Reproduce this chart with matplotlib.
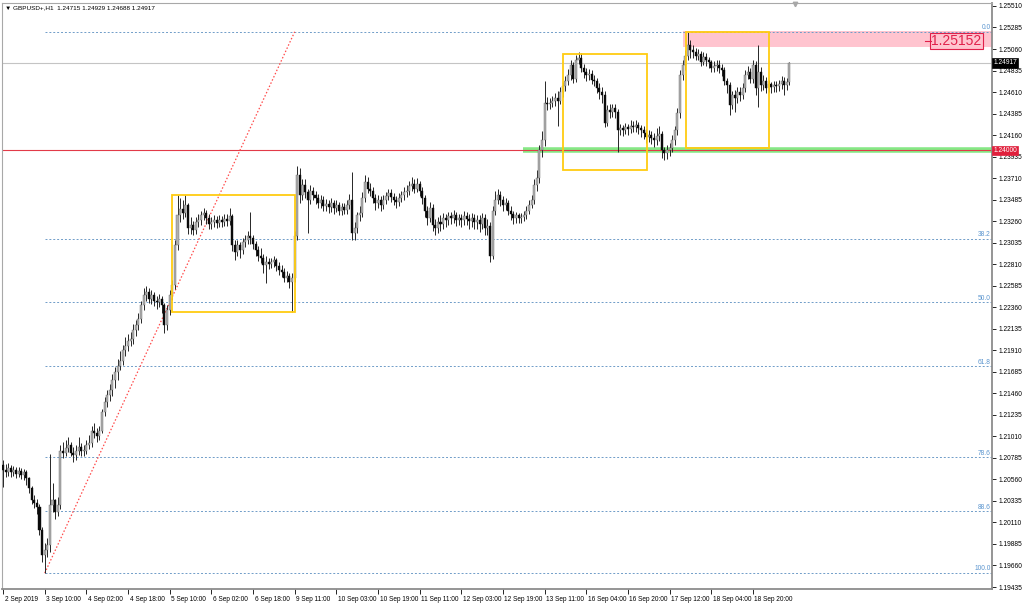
import matplotlib
matplotlib.use("Agg")
import matplotlib.pyplot as plt
import matplotlib.transforms as mtrans
from matplotlib.patches import Rectangle
import numpy as np

# ---------------- data (prices in pips, 1 pip = 0.0001) ----------------
title_symbol = "GBPUSD+,H1"
title_ohlc = ["1.24715", "1.24929", "1.24688", "1.24917"]

first_open = 12071
close_pips = [
    12066, 12064, 12068, 12064, 12066, 12062, 12065, 12061, 12064, 12057,
    12047, 12034, 12031, 12027, 12003, 11977, 11982, 11987, 12029, 12034,
    12022, 12029, 12086, 12084, 12089, 12092, 12084, 12081, 12086, 12090,
    12086, 12086, 12092, 12094, 12107, 12105, 12101, 12107, 12126, 12137,
    12144, 12149, 12160, 12168, 12175, 12180, 12191, 12196, 12201, 12203,
    12212, 12217, 12224, 12238, 12249, 12252, 12245, 12249, 12243, 12241,
    12245, 12238, 12217, 12233, 12249, 12259, 12301, 12332, 12339, 12335,
    12343, 12319, 12322, 12317, 12325, 12327, 12332, 12335, 12329, 12323,
    12325, 12327, 12324, 12327, 12325, 12328, 12326, 12331, 12301, 12294,
    12301, 12296, 12304, 12306, 12310, 12308, 12302, 12296, 12290, 12288,
    12280, 12283, 12281, 12283, 12285, 12279, 12275, 12273, 12267, 12269,
    12262, 12267, 12311, 12374, 12353, 12364, 12356, 12348, 12358, 12353,
    12350, 12345, 12348, 12342, 12344, 12341, 12345, 12340, 12343, 12337,
    12341, 12338, 12343, 12348, 12314, 12319, 12332, 12335, 12350, 12367,
    12360, 12358, 12350, 12345, 12348, 12343, 12348, 12352, 12355, 12351,
    12348, 12346, 12350, 12353, 12356, 12358, 12363, 12365, 12360, 12365,
    12358, 12350, 12337, 12329, 12340, 12322, 12319, 12325, 12323, 12329,
    12327, 12331, 12329, 12332, 12327, 12329, 12327, 12331, 12328, 12326,
    12329, 12325, 12327, 12323, 12329, 12319, 12321, 12290, 12337, 12348,
    12353, 12348, 12343, 12345, 12337, 12333, 12329, 12332, 12329, 12330,
    12332, 12337, 12343, 12348, 12364, 12371, 12400, 12411, 12450, 12448,
    12450, 12452, 12455, 12452, 12461, 12467, 12473, 12479, 12489, 12475,
    12494, 12497, 12486, 12482, 12479, 12480, 12474, 12473, 12465, 12461,
    12458, 12429, 12442, 12440, 12444, 12440, 12421, 12423, 12421, 12424,
    12422, 12426, 12424, 12427, 12423, 12421, 12418, 12414, 12416, 12413,
    12411, 12415, 12417, 12400, 12397, 12400, 12402, 12411, 12421, 12439,
    12479, 12489, 12499, 12510, 12505, 12503, 12499, 12501, 12492, 12498,
    12494, 12492, 12486, 12488, 12489, 12486, 12484, 12473, 12468, 12447,
    12458, 12455, 12461, 12458, 12465, 12479, 12482, 12475, 12489, 12465,
    12482, 12468, 12473, 12465, 12469, 12466, 12468, 12467, 12469, 12473,
    12468, 12471.5, 12491.7,
]
high_pips = [
    12076, 12072, 12073, 12071, 12070, 12069, 12069, 12068, 12067, 12066,
    12059, 12049, 12040, 12035, 12030, 12006, 11990, 11995, 12083, 12052,
    12036, 12038, 12092, 12095, 12097, 12100, 12095, 12090, 12092, 12100,
    12094, 12092, 12097, 12102, 12112, 12115, 12110, 12112, 12130, 12142,
    12150, 12156, 12166, 12174, 12182, 12190, 12197, 12205, 12208, 12210,
    12218, 12223, 12230, 12243, 12256, 12258, 12256, 12254, 12252, 12248,
    12250, 12248, 12240, 12238, 12254, 12265, 12306, 12353, 12350, 12348,
    12353, 12345, 12330, 12326, 12330, 12333, 12337, 12340, 12338, 12333,
    12330, 12332, 12331, 12332, 12331, 12333, 12334, 12340, 12334, 12306,
    12306, 12304, 12308, 12312, 12316, 12336, 12312, 12305, 12300, 12298,
    12292, 12290, 12288, 12287, 12290, 12288, 12283, 12280, 12277, 12274,
    12272, 12272, 12316, 12384, 12382, 12370, 12370, 12360, 12364, 12362,
    12358, 12354, 12353, 12352, 12349, 12348, 12350, 12348, 12348, 12346,
    12345, 12345, 12348, 12354, 12377, 12325, 12336, 12342, 12356, 12374,
    12372, 12366, 12362, 12354, 12353, 12352, 12353, 12357, 12360, 12360,
    12355, 12352, 12355, 12358, 12362, 12364, 12368, 12372, 12370, 12371,
    12368, 12362, 12353, 12342, 12346, 12344, 12328, 12330, 12332, 12335,
    12334, 12336, 12336, 12338, 12336, 12334, 12333, 12337, 12336, 12333,
    12335, 12334, 12332, 12332, 12335, 12333, 12328, 12325, 12342, 12358,
    12360, 12358, 12352, 12350, 12348, 12342, 12337, 12336, 12335, 12335,
    12337, 12342, 12348, 12353, 12370, 12380, 12406, 12420, 12473, 12456,
    12455, 12457, 12460, 12462, 12466, 12472, 12478, 12485, 12495, 12492,
    12500, 12503, 12502, 12490, 12486, 12485, 12484, 12479, 12476, 12470,
    12466, 12462, 12447, 12448, 12449, 12448, 12443, 12428, 12427, 12429,
    12428, 12432, 12431, 12432, 12430, 12427, 12425, 12422, 12421, 12420,
    12418, 12423, 12425, 12420, 12404, 12406, 12408, 12416, 12426, 12444,
    12484, 12495, 12505, 12524, 12515, 12510, 12507, 12506, 12504, 12503,
    12502, 12498, 12495, 12493, 12494, 12495, 12490, 12487, 12476, 12471,
    12462, 12463, 12466, 12466, 12470, 12484, 12488, 12486, 12494, 12493,
    12510, 12487, 12479, 12477, 12474, 12472, 12473, 12473, 12474, 12478,
    12477, 12476, 12492.9,
]
low_pips = [
    12048, 12058, 12060, 12059, 12060, 12057, 12058, 12056, 12055, 12050,
    12042, 12030, 12026, 12020, 11998, 11970, 11958, 11975, 11980, 12022,
    12015, 12018, 12025, 12078, 12080, 12085, 12080, 12074, 12076, 12082,
    12080, 12080, 12083, 12088, 12090, 12099, 12095, 12097, 12104, 12122,
    12132, 12138, 12143, 12152, 12160, 12170, 12176, 12185, 12190, 12195,
    12198, 12206, 12212, 12220, 12233, 12243, 12240, 12239, 12237, 12234,
    12236, 12230, 12209, 12212, 12228, 12244, 12255, 12296, 12325, 12328,
    12330, 12313, 12313, 12312, 12313, 12320, 12322, 12327, 12323, 12318,
    12318, 12320, 12319, 12320, 12320, 12321, 12321, 12322, 12295, 12285,
    12290, 12288, 12292, 12299, 12302, 12302, 12297, 12290, 12284, 12282,
    12272, 12261, 12276, 12277, 12278, 12274, 12270, 12268, 12262, 12262,
    12256, 12231, 12262, 12306, 12345, 12348, 12350, 12314, 12344, 12348,
    12344, 12340, 12340, 12337, 12337, 12335, 12336, 12334, 12336, 12332,
    12332, 12333, 12334, 12339, 12306, 12306, 12314, 12326, 12330, 12346,
    12355, 12352, 12345, 12338, 12340, 12337, 12339, 12344, 12348, 12346,
    12343, 12340, 12342, 12346, 12348, 12351, 12353, 12358, 12355, 12356,
    12352, 12344, 12330, 12322, 12325, 12316, 12312, 12314, 12316, 12318,
    12320, 12322, 12323, 12324, 12321, 12322, 12320, 12322, 12322, 12318,
    12320, 12318, 12318, 12315, 12318, 12312, 12312, 12283, 12286, 12332,
    12344, 12342, 12337, 12338, 12332, 12327, 12323, 12324, 12324, 12324,
    12326, 12328, 12333, 12340, 12344, 12358, 12366, 12393, 12405, 12442,
    12443, 12445, 12446, 12426, 12448, 12456, 12462, 12468, 12474, 12470,
    12472, 12490, 12482, 12476, 12473, 12474, 12469, 12467, 12460, 12454,
    12450, 12424, 12425, 12434, 12435, 12434, 12398, 12416, 12415, 12417,
    12416, 12418, 12419, 12419, 12417, 12414, 12412, 12408, 12409, 12407,
    12404, 12406, 12410, 12392, 12390, 12391, 12394, 12398, 12406, 12416,
    12434, 12474, 12484, 12494, 12497, 12497, 12494, 12495, 12488, 12489,
    12488, 12486, 12482, 12482, 12483, 12481, 12478, 12468, 12460, 12437,
    12443, 12440, 12450, 12452, 12454, 12461, 12475, 12470, 12470, 12458,
    12445, 12462, 12463, 12460, 12461, 12460, 12461, 12461, 12462, 12464,
    12458, 12463, 12468.8,
]

date_labels = ["2 Sep 2019", "3 Sep 10:00", "4 Sep 02:00", "4 Sep 18:00",
               "5 Sep 10:00", "6 Sep 02:00", "6 Sep 18:00", "9 Sep 11:00",
               "10 Sep 03:00", "10 Sep 19:00", "11 Sep 11:00", "12 Sep 03:00",
               "12 Sep 19:00", "13 Sep 11:00", "16 Sep 04:00", "16 Sep 20:00",
               "17 Sep 12:00", "18 Sep 04:00", "18 Sep 20:00"]
bars_per_label = 16

price_ticks = [1.19435, 1.19660, 1.19885, 1.20110, 1.20335, 1.20560, 1.20785,
               1.21010, 1.21235, 1.21460, 1.21685, 1.21910, 1.22135, 1.22360,
               1.22585, 1.22810, 1.23035, 1.23260, 1.23485, 1.23710, 1.23935,
               1.24160, 1.24385, 1.24610, 1.24835, 1.25060, 1.25285, 1.25510]

current_price = 1.24917
level_price = 1.24000

# Fibonacci retracement (bar index, price)
fib_start_bar, fib_low = 16, 1.1958
fib_end_bar, fib_high = 112, 1.2524
fib_levels = [0.0, 38.2, 50.0, 61.8, 78.6, 88.6, 100.0]

# rectangles: (bar0, bar1, price_low, price_high)
yellow_boxes = [(65.0, 112.2, 1.2231, 1.2353),
                (215.2, 247.4, 1.2379, 1.2501),
                (262.4, 294.3, 1.2402, 1.2524)]
pink_zone = (261.2, 400, 1.2508, 1.2525)
pink_label = "1.25152"
pink_label_price = 1.2514
green_line_start_bar = 199.5
shift_marker_bar = 304.3

# ---------------- drawing ----------------
FONT = ["Liberation Sans", "DejaVu Sans"]
plt.rcParams["font.family"] = FONT

W, H = 1024, 604
fig = plt.figure(figsize=(W / 100, H / 100), dpi=100)
fig.patch.set_facecolor("white")
ax = fig.add_axes([2 / W, 15 / H, 990 / W, 586 / H])
ax.set_facecolor("white")

closes = np.array(close_pips) / 1e4
highs = np.array(high_pips) / 1e4
lows = np.array(low_pips) / 1e4
opens = np.concatenate([[first_open / 1e4], closes[:-1]])
idx = np.arange(len(closes))
highs = np.maximum(highs, np.maximum(opens, closes))
lows = np.minimum(lows, np.minimum(opens, closes))

ymin, ymax = 1.194142, 1.25541
ax.set_ylim(ymin, ymax)
ax.set_xlim(-0.4, 379.8)

# horizontal lines
ax.axhline(current_price, color="#c4c4c4", lw=0.8, zorder=1)
ax.plot([green_line_start_bar, 400], [level_price, level_price],
        color="#86e886", lw=4.0, solid_capstyle="butt", zorder=1)
ax.axhline(level_price, color="#e23a48", lw=0.8, zorder=2)

# pink zone
ax.add_patch(Rectangle((pink_zone[0], pink_zone[2]), pink_zone[1] - pink_zone[0],
                       pink_zone[3] - pink_zone[2], facecolor="#ffc4cf",
                       edgecolor="none", zorder=1))

# fibonacci
fib_range = fib_high - fib_low
blend = mtrans.blended_transform_factory(ax.transAxes, ax.transData)
for lv in fib_levels:
    p = fib_high - lv / 100 * fib_range
    ax.plot([fib_start_bar, 400], [p, p], color="#6f9cc8", lw=0.7,
            ls=(0, (2, 2)), zorder=1)
    ax.text(0.9985, p + 0.00008, f"{lv:.1f}", transform=blend, ha="right",
            va="bottom", fontsize=4.8, color="#5b95cf", zorder=5)
ax.plot([fib_start_bar, fib_end_bar], [fib_low, fib_high], color="#ff4a4a",
        lw=0.9, ls=(0, (1.2, 1.6)), zorder=2)

# yellow boxes
for b0, b1, p0, p1 in yellow_boxes:
    ax.add_patch(Rectangle((b0, p0), b1 - b0, p1 - p0, facecolor="none",
                           edgecolor="#ffcc11", lw=1.3, zorder=4))

# candles
bull = closes >= opens
ax.vlines(idx, lows, highs, color="#262626", lw=0.7, zorder=3)
body_lo = np.minimum(opens, closes)
body_h = np.maximum(np.abs(closes - opens), 0.00003)
ax.bar(idx[bull], body_h[bull], bottom=body_lo[bull], width=0.78,
       color="#b0b0b0", edgecolor="#666666", lw=0.3, zorder=3)
ax.bar(idx[~bull], body_h[~bull], bottom=body_lo[~bull], width=0.78,
       color="#0a0a0a", edgecolor="#0a0a0a", lw=0.3, zorder=3)

# pink label
ax.text(0.9895, pink_label_price, pink_label, transform=blend, ha="right",
        va="center", fontsize=10, color="#e0204a", zorder=6,
        bbox=dict(boxstyle="square,pad=0.08", facecolor="#ffc4cf",
                  edgecolor="#e0204a", lw=0.8))
ax.plot([0.9325, 0.9385], [pink_label_price, pink_label_price], transform=blend,
        color="#e0204a", lw=0.8, zorder=6)

# axes styling
for s in ["top", "left"]:
    ax.spines[s].set_color("#a8a8a8")
    ax.spines[s].set_linewidth(0.8)
for s in ["right", "bottom"]:
    ax.spines[s].set_color("#8c8c8c")
    ax.spines[s].set_linewidth(1.3)

ax.yaxis.tick_right()
ax.set_yticks(price_ticks)
ax.set_yticklabels([f"{t:.5f}" for t in price_ticks])
ax.tick_params(axis="y", length=3, width=0.6, pad=1.5, labelsize=4.8,
               colors="black")
tick_bars = [k * bars_per_label for k in range(len(date_labels))]
ax.set_xticks(tick_bars)
ax.set_xticklabels(date_labels, ha="left")
ax.tick_params(axis="x", length=3.5, width=0.6, pad=1.5, labelsize=4.7,
               colors="black")
offset = mtrans.ScaledTranslation(1.5 / 100, 0, fig.dpi_scale_trans)
for lab in ax.get_xticklabels():
    lab.set_transform(lab.get_transform() + offset)

# price boxes on the axis
ax.text(1.0012, current_price, f"{current_price:.5f}", transform=blend,
        ha="left", va="center", fontsize=4.8, color="white", zorder=7,
        clip_on=False, bbox=dict(boxstyle="square,pad=0.2", facecolor="black",
                                 edgecolor="black", lw=0.5))
ax.text(1.0012, level_price, f"{level_price:.5f}", transform=blend,
        ha="left", va="center", fontsize=4.8, color="white", zorder=7,
        clip_on=False, bbox=dict(boxstyle="square,pad=0.2", facecolor="#e0203c",
                                 edgecolor="#e0203c", lw=0.5))

# chart shift marker
ax.plot([shift_marker_bar], [ymax - 0.00012], marker="v", ms=3.2,
        color="#a8a8a8", clip_on=False, zorder=7)

# title
fig.text(5 / W, 1 - 7.5 / H, "\u25BC " + title_symbol + "  " + " ".join(title_ohlc),
         fontsize=4.6, va="center", ha="left", color="black", family=FONT)

fig.savefig("out.png", dpi=100, facecolor="white")
